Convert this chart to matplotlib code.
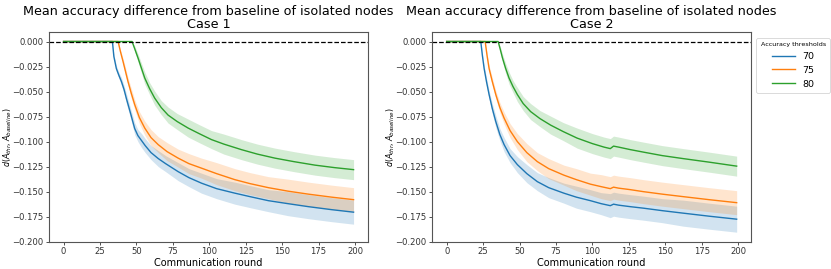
import matplotlib
matplotlib.use("Agg")
import matplotlib.pyplot as plt
import numpy as np

# ---- Data ----
thresholds = ["70", "75", "80"]
colors = ["#1f77b4", "#ff7f0e", "#2ca02c"]

# Case 1
c1_x70 = [0, 33.5, 34.5, 36.2, 38, 39.7, 41.5, 43.1, 46, 48.8, 51, 53.5, 56, 60, 65, 70, 78.6, 86, 94.6, 105, 117.5, 128, 140.5, 154, 168, 184, 199]
c1_y70 = [0, 0, -0.015, -0.027, -0.034, -0.040, -0.048, -0.057, -0.072, -0.087, -0.094, -0.099, -0.104, -0.111, -0.117, -0.122, -0.130, -0.136, -0.1415, -0.147, -0.1515, -0.155, -0.159, -0.162, -0.165, -0.168, -0.1705]
c1_e70 = [0, 0, 0.002, 0.003, 0.003, 0.004, 0.004, 0.005, 0.005, 0.006, 0.006, 0.007, 0.007, 0.007, 0.008, 0.008, 0.009, 0.009, 0.010, 0.010, 0.011, 0.011, 0.011, 0.012, 0.012, 0.012, 0.012]

c1_x75 = [0, 37.4, 39, 40.8, 42.5, 44.2, 46.5, 48.8, 52, 55.7, 60, 64.9, 71, 78.6, 86, 94.6, 105, 117.5, 128, 140.5, 154, 168, 184, 199]
c1_y75 = [0, 0, -0.010, -0.020, -0.030, -0.040, -0.052, -0.063, -0.076, -0.0865, -0.096, -0.103, -0.110, -0.1165, -0.122, -0.1265, -0.132, -0.138, -0.142, -0.146, -0.1495, -0.1525, -0.1555, -0.158]
c1_e75 = [0, 0, 0.002, 0.003, 0.004, 0.004, 0.005, 0.005, 0.006, 0.007, 0.008, 0.008, 0.009, 0.009, 0.010, 0.010, 0.011, 0.011, 0.011, 0.011, 0.012, 0.012, 0.012, 0.012]

c1_x80 = [0, 47, 49, 51.1, 53.5, 55.7, 59, 62.5, 67, 71.7, 78, 85.5, 93, 101.5, 110, 122, 133, 145, 158, 172.5, 186, 199]
c1_y80 = [0, 0, -0.008, -0.0165, -0.027, -0.0365, -0.047, -0.0565, -0.066, -0.0735, -0.080, -0.0865, -0.092, -0.098, -0.1025, -0.108, -0.1125, -0.1165, -0.120, -0.1235, -0.126, -0.128]
c1_e80 = [0, 0, 0.003, 0.004, 0.005, 0.006, 0.006, 0.007, 0.007, 0.008, 0.008, 0.009, 0.009, 0.009, 0.010, 0.010, 0.010, 0.010, 0.010, 0.010, 0.010, 0.010]

# Case 2
c2_x70 = [0, 23.4, 24.5, 25.7, 27.3, 29.1, 31.3, 33.7, 36.5, 39.4, 43.5, 48.5, 55, 62.2, 70, 80.4, 89, 98.6, 106, 112.3, 114.5, 118, 126, 135, 148, 162.4, 180, 199]
c2_y70 = [0, 0, -0.014, -0.027, -0.040, -0.053, -0.067, -0.080, -0.093, -0.103, -0.114, -0.123, -0.132, -0.140, -0.146, -0.1515, -0.1555, -0.159, -0.162, -0.164, -0.1625, -0.1635, -0.165, -0.1665, -0.169, -0.1715, -0.1745, -0.1775]
c2_e70 = [0, 0, 0.002, 0.003, 0.004, 0.004, 0.005, 0.006, 0.006, 0.007, 0.007, 0.008, 0.009, 0.009, 0.010, 0.010, 0.011, 0.011, 0.011, 0.012, 0.012, 0.012, 0.012, 0.012, 0.012, 0.013, 0.013, 0.013]

c2_x75 = [0, 26.4, 27.7, 29.1, 31.3, 33.7, 36.5, 39.4, 43.5, 48.5, 55, 62.2, 70, 80.4, 89, 98.6, 106, 112.3, 114.5, 118, 126, 135, 148, 162.4, 180, 199]
c2_y75 = [0, 0, -0.014, -0.027, -0.040, -0.053, -0.066, -0.0765, -0.089, -0.100, -0.111, -0.120, -0.127, -0.1335, -0.138, -0.1425, -0.145, -0.147, -0.1455, -0.1465, -0.148, -0.150, -0.1525, -0.155, -0.158, -0.161]
c2_e75 = [0, 0, 0.002, 0.003, 0.004, 0.004, 0.005, 0.006, 0.007, 0.008, 0.009, 0.009, 0.010, 0.010, 0.011, 0.011, 0.012, 0.012, 0.012, 0.012, 0.012, 0.012, 0.012, 0.012, 0.012, 0.012]

c2_x80 = [0, 35.3, 36.8, 38.3, 40.5, 42.8, 45.5, 48.5, 52.5, 57.6, 64, 71.3, 80, 89.5, 100, 108, 112.3, 114.5, 118, 126, 135, 148, 162.4, 180, 199]
c2_y80 = [0, 0, -0.008, -0.0165, -0.027, -0.0365, -0.045, -0.053, -0.062, -0.070, -0.077, -0.0835, -0.090, -0.0965, -0.102, -0.1055, -0.107, -0.1045, -0.1055, -0.108, -0.1105, -0.114, -0.117, -0.1205, -0.1245]
c2_e80 = [0, 0, 0.003, 0.004, 0.005, 0.006, 0.006, 0.007, 0.007, 0.008, 0.008, 0.009, 0.009, 0.010, 0.010, 0.010, 0.010, 0.010, 0.010, 0.010, 0.010, 0.010, 0.010, 0.010, 0.010]

cases = [
    ("Case 1", [(c1_x70, c1_y70, c1_e70), (c1_x75, c1_y75, c1_e75), (c1_x80, c1_y80, c1_e80)]),
    ("Case 2", [(c2_x70, c2_y70, c2_e70), (c2_x75, c2_y75, c2_e75), (c2_x80, c2_y80, c2_e80)]),
]

title_main = "Mean accuracy difference from baseline of isolated nodes"
xlabel = "Communication round"
ylabel = r"$d(A_{thr}, A_{baseline})$"
xticks = [0, 25, 50, 75, 100, 125, 150, 175, 200]
yticks = [0.0, -0.025, -0.05, -0.075, -0.1, -0.125, -0.15, -0.175, -0.2]

fig = plt.figure(figsize=(8.31, 2.69), dpi=100)
positions = [[0.059, 0.1015, 0.384, 0.7795], [0.520, 0.1015, 0.384, 0.7795]]

for i, (case_name, series) in enumerate(cases):
    ax = fig.add_axes(positions[i])
    for (xs, ys, es), lab, col in zip(series, thresholds, colors):
        xs = np.array(xs); ys = np.array(ys); es = np.array(es)
        ax.fill_between(xs, ys - es, ys + es, color=col, alpha=0.2, linewidth=0)
        ax.plot(xs, ys, color=col, lw=1.0, label=lab)
    ax.axhline(0, color="k", linestyle="--", lw=0.9)
    ax.set_xlim(-10, 209)
    ax.set_ylim(-0.2, 0.0095)
    ax.set_xticks(xticks)
    ax.set_yticks(yticks)
    ax.set_yticklabels([f"{t:.3f}".replace("-", "\u2212") for t in yticks])
    ax.tick_params(labelsize=6.1, length=2.5, width=0.6, colors="#333333", pad=1.5)
    ax.set_xlabel(xlabel, fontsize=7, labelpad=1)
    ax.set_ylabel(ylabel, fontsize=5.8)
    ax.yaxis.set_label_coords(-0.11, 0.5)
    ax.set_title(title_main + "\n" + case_name, fontsize=9.2, pad=3, linespacing=1.0)
    for sp in ax.spines.values():
        sp.set_color("#555555")
        sp.set_linewidth(0.8)
    if i == 1:
        leg = ax.legend(title="Accuracy thresholds", loc="upper left",
                        bbox_to_anchor=(1.016, 0.971), borderaxespad=0,
                        fontsize=6.8, title_fontsize=4.6, handlelength=2.4,
                        framealpha=1, borderpad=0.45, labelspacing=0.5)
        leg.get_frame().set_linewidth(0.5)

fig.savefig("out.png", dpi=100)
